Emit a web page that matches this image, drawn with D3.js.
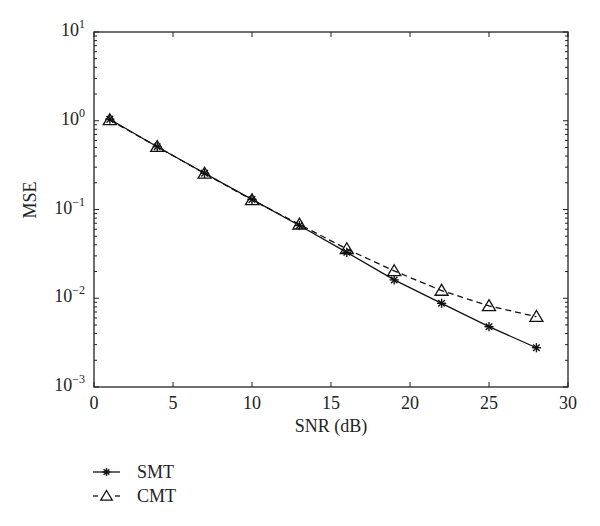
<!DOCTYPE html>
<html><head><meta charset="utf-8">
<script src="https://cdn.jsdelivr.net/npm/d3@7"></script>
<style>body{margin:0;background:#fff}svg{display:block}text{font-family:"Liberation Serif",serif;fill:#222}</style>
</head><body><svg id="c" width="600" height="526"></svg>
<script>
const snr = [1, 4, 7, 10, 13, 16, 19, 22, 25, 28];
const smt = [1.04, 0.51, 0.256, 0.130, 0.066, 0.0329, 0.0161, 0.00877, 0.00478, 0.00277];
const cmt = [1.02, 0.51, 0.255, 0.128, 0.068, 0.0359, 0.0203, 0.0122, 0.0082, 0.0062];
const xTicks = [0, 5, 10, 15, 20, 25, 30];
const yTickExp = [1, 0, -1, -2, -3];
const seriesNames = ["SMT", "CMT"];

const FONT = "Liberation Serif, serif";
const svg = d3.select("#c");
const L = 94, R = 568, T = 32, B = 387;
const x = d3.scaleLinear().domain([0, 30]).range([L, R]);
const y = d3.scaleLog().domain([1e-3, 10]).range([B, T]);

svg.append("rect").attr("x", L).attr("y", T).attr("width", R - L).attr("height", B - T)
  .attr("fill", "none").attr("stroke", "#222").attr("stroke-width", 1.3);

const gx = svg.append("g");
xTicks.forEach(v => {
  gx.append("line").attr("x1", x(v)).attr("x2", x(v)).attr("y1", B).attr("y2", B - 5).attr("stroke", "#222");
  gx.append("line").attr("x1", x(v)).attr("x2", x(v)).attr("y1", T).attr("y2", T + 5).attr("stroke", "#222");
  gx.append("text").attr("x", x(v)).attr("y", 409).attr("text-anchor", "middle")
    .attr("font-family", FONT).attr("font-size", 18).text(v);
});

const gy = svg.append("g");
yTickExp.forEach(e => {
  const v = Math.pow(10, e);
  gy.append("line").attr("x1", L).attr("x2", L + 5).attr("y1", y(v)).attr("y2", y(v)).attr("stroke", "#222");
  gy.append("line").attr("x1", R).attr("x2", R - 5).attr("y1", y(v)).attr("y2", y(v)).attr("stroke", "#222");
  const t = gy.append("text").attr("x", 85).attr("y", y(v) + 4).attr("text-anchor", "end")
    .attr("font-family", FONT).attr("font-size", 18);
  t.append("tspan").text("10");
  t.append("tspan").attr("dy", -8).attr("font-size", 12).text(e < 0 ? "\u2212" + (-e) : String(e));
  if (e > -3) {
    for (let m = 2; m <= 9; m++) {
      const mv = v * m / 10;
      gy.append("line").attr("x1", L).attr("x2", L + 3).attr("y1", y(mv)).attr("y2", y(mv)).attr("stroke", "#222");
      gy.append("line").attr("x1", R).attr("x2", R - 3).attr("y1", y(mv)).attr("y2", y(mv)).attr("stroke", "#222");
    }
  }
});

svg.append("text").attr("x", (L + R) / 2).attr("y", 432).attr("text-anchor", "middle")
  .attr("font-family", FONT).attr("font-size", 18).text("SNR (dB)");
svg.append("text").attr("transform", "translate(36,200) rotate(-90)").attr("text-anchor", "middle")
  .attr("font-family", FONT).attr("font-size", 18).text("MSE");

const line = d3.line().x(d => x(d[0])).y(d => y(d[1]));
const smtData = snr.map((s, i) => [s, smt[i]]);
const cmtData = snr.map((s, i) => [s, cmt[i]]);

function star(g, cx, cy, r) {
  const p = g.append("g").attr("stroke", "#111").attr("stroke-width", 1.4);
  for (let k = 0; k < 4; k++) {
    const a = k * Math.PI / 4;
    p.append("line").attr("x1", cx - r * Math.cos(a)).attr("y1", cy - r * Math.sin(a))
      .attr("x2", cx + r * Math.cos(a)).attr("y2", cy + r * Math.sin(a));
  }
}
function tri(g, cx, cy, r) {
  g.append("path").attr("d", `M${cx},${cy - r} L${cx + r * 1.05},${cy + r * 0.75} L${cx - r * 1.05},${cy + r * 0.75} Z`)
    .attr("fill", "none").attr("stroke", "#111").attr("stroke-width", 1.3);
}

svg.append("path").datum(cmtData).attr("d", line).attr("fill", "none").attr("stroke", "#111")
  .attr("stroke-width", 1.3).attr("stroke-dasharray", "6,4");
svg.append("path").datum(smtData).attr("d", line).attr("fill", "none").attr("stroke", "#111").attr("stroke-width", 1.3);

const gm = svg.append("g");
cmtData.forEach(d => tri(gm, x(d[0]), y(d[1]), 6.2));
smtData.forEach(d => star(gm, x(d[0]), y(d[1]), 4.6));

const lg = svg.append("g");
lg.append("line").attr("x1", 93).attr("x2", 120).attr("y1", 472).attr("y2", 472).attr("stroke", "#111").attr("stroke-width", 1.3);
star(lg, 106.5, 472, 4);
lg.append("text").attr("x", 137).attr("y", 478).attr("font-family", FONT).attr("font-size", 18).text(seriesNames[0]);
lg.append("line").attr("x1", 93).attr("x2", 98).attr("y1", 496).attr("y2", 496).attr("stroke", "#111").attr("stroke-width", 1.3);
lg.append("line").attr("x1", 115).attr("x2", 120).attr("y1", 496).attr("y2", 496).attr("stroke", "#111").attr("stroke-width", 1.3);
tri(lg, 106.5, 496, 5.5);
lg.append("text").attr("x", 137).attr("y", 502).attr("font-family", FONT).attr("font-size", 18).text(seriesNames[1]);
</script></body></html>
